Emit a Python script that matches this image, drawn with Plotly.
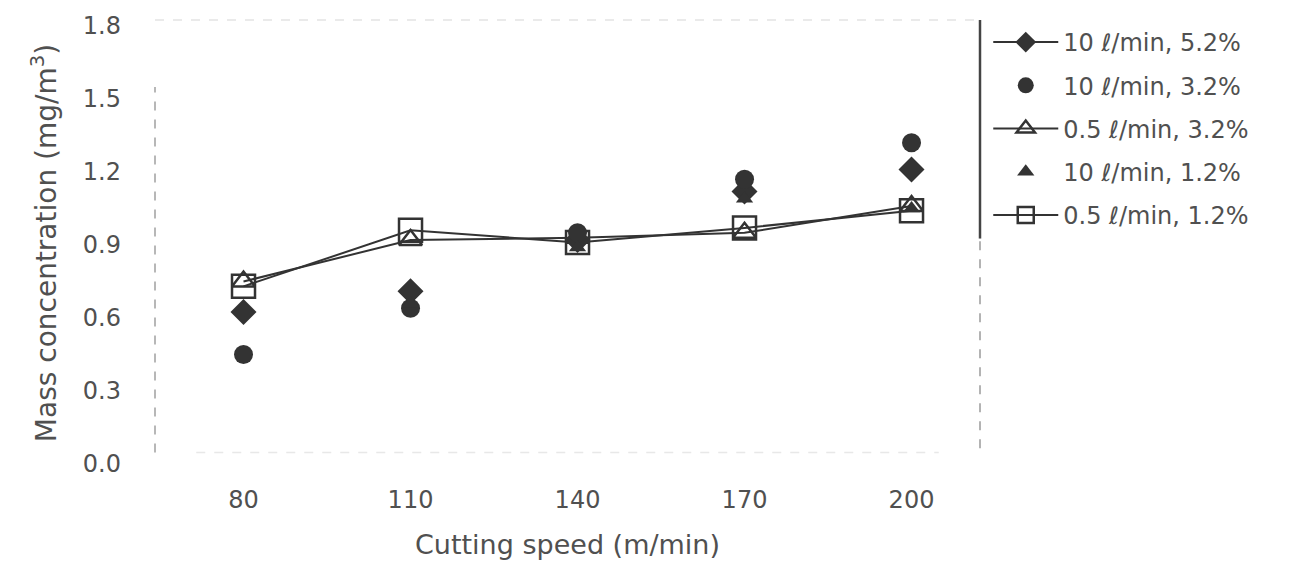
import plotly.graph_objects as go

# Cutting speed categories (m/min)
speeds = ["80", "110", "140", "170", "200"]

# Mass concentration (mg/m^3) per coolant condition
conc_10_52 = [0.625, 0.71, 0.92, 1.12, 1.21]   # 10 l/min, 5.2%
conc_10_32 = [0.45, 0.64, 0.95, 1.17, 1.32]    # 10 l/min, 3.2%
conc_05_32 = [0.75, 0.92, 0.93, 0.95, 1.06]    # 0.5 l/min, 3.2%
conc_10_12 = [0.64, 0.66, 0.89, 1.09, 1.05]    # 10 l/min, 1.2%
conc_05_12 = [0.73, 0.96, 0.91, 0.97, 1.04]    # 0.5 l/min, 1.2%

names = ["10 ℓ/min, 5.2%", "10 ℓ/min, 3.2%", "0.5 ℓ/min, 3.2%",
         "10 ℓ/min, 1.2%", "0.5 ℓ/min, 1.2%"]

ink = "#333333"
txt = "#505050"
font_family = "DejaVu Sans, Liberation Sans, sans-serif"

fig = go.Figure()

# Open-marker series with connecting lines
fig.add_trace(go.Scatter(
    x=speeds, y=conc_05_32, name=names[2], mode="lines+markers",
    line=dict(color=ink, width=2),
    marker=dict(symbol="triangle-up-open", size=20, color=ink, line=dict(width=2.5)),
    legendgroup="c", legendrank=3))
fig.add_trace(go.Scatter(
    x=speeds, y=conc_05_12, name=names[4], mode="lines+markers",
    line=dict(color=ink, width=2),
    marker=dict(symbol="square-open", size=23, color=ink, line=dict(width=2.5)),
    legendgroup="e", legendrank=5))

# Filled-marker series (points only on the chart)
fig.add_trace(go.Scatter(
    x=speeds, y=conc_10_52, name=names[0], mode="markers",
    marker=dict(symbol="diamond", size=20, color=ink),
    legendgroup="a", showlegend=False))
fig.add_trace(go.Scatter(
    x=[None], y=[None], name=names[0], mode="lines+markers",
    line=dict(color=ink, width=2),
    marker=dict(symbol="diamond", size=17, color=ink),
    legendgroup="a", legendrank=1))
fig.add_trace(go.Scatter(
    x=speeds, y=conc_10_32, name=names[1], mode="markers",
    marker=dict(symbol="circle", size=19, color=ink),
    legendgroup="b", legendrank=2))
fig.add_trace(go.Scatter(
    x=speeds, y=conc_10_12, name=names[3], mode="markers",
    marker=dict(symbol="triangle-up", size=15, color=ink),
    legendgroup="d", legendrank=4))

# Plot frame: faint dashed top/bottom/left, dark right edge
frame = [
    dict(x0=0, x1=1, y0=1, y1=1, color="#e4e4e4", dash="dash", width=1.5),
    dict(x0=0.05, x1=0.95, y0=0.03, y1=0.03, color="#e8e8e8", dash="dash", width=1.5),
    dict(x0=0, x1=0, y0=0.03, y1=0.85, color="#a0a0a0", dash="dash", width=1.5),
    dict(x0=1, x1=1, y0=0.51, y1=1, color="#444444", dash="solid", width=2.5),
    dict(x0=1, x1=1, y0=0.04, y1=0.51, color="#9a9a9a", dash="dash", width=1.5),
]
for s in frame:
    fig.add_shape(type="line", xref="x domain", yref="y domain",
                  x0=s["x0"], x1=s["x1"], y0=s["y0"], y1=s["y1"],
                  line=dict(color=s["color"], width=s["width"], dash=s["dash"]),
                  layer="below")

fig.update_layout(
    width=1310, height=578,
    margin=dict(l=155, r=330, t=16, b=112),
    paper_bgcolor="white", plot_bgcolor="white",
    font=dict(family=font_family, color=txt, size=24),
    showlegend=True,
    legend=dict(
        x=1.01, y=1.0, xanchor="left", yanchor="top",
        traceorder="grouped", tracegroupgap=9,
        font=dict(size=24, color=txt, family=font_family),
        bgcolor="rgba(0,0,0,0)", itemwidth=65,
    ),
    xaxis=dict(
        type="category", range=[-0.53, 4.41],
        showgrid=False, zeroline=False, showline=False,
        ticks="", ticklabelstandoff=17,
        tickfont=dict(size=24, color=txt),
        title=dict(text="Cutting speed (m/min)", standoff=22,
                   font=dict(size=27, color=txt)),
    ),
    yaxis=dict(
        range=[-0.008, 1.824],
        tickvals=[0.0, 0.3, 0.6, 0.9, 1.2, 1.5, 1.8],
        ticktext=["0.0", "0.3", "0.6", "0.9", "1.2", "1.5", "1.8"],
        showgrid=False, zeroline=False, showline=False,
        ticks="", ticklabelstandoff=33,
        tickfont=dict(size=24, color=txt),
        title=dict(text="Mass concentration (mg/m<sup>3</sup>)", standoff=18,
                   font=dict(size=28, color=txt)),
    ),
)

fig.write_html("out.html")
